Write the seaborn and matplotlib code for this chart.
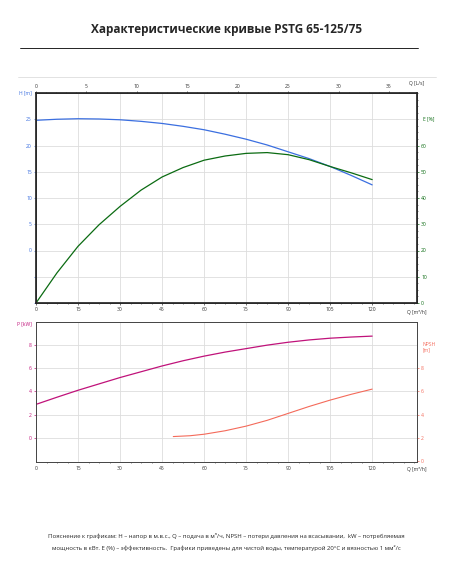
import matplotlib
matplotlib.use("Agg")
import matplotlib.pyplot as plt
import seaborn as sns
import numpy as np

q_hq = [0, 7.5, 15, 22.5, 30, 37.5, 45, 52.5, 60, 67.5, 75, 82.5, 90, 97.5, 105, 112.5, 120]
head = [24.8, 25.0, 25.1, 25.05, 24.9, 24.6, 24.2, 23.65, 23.0, 22.15, 21.2, 20.1, 18.8, 17.5, 16.0, 14.3, 12.5]
eff = [0, 11.5, 21.6, 29.8, 36.8, 43.0, 48.0, 51.6, 54.4, 56.0, 57.0, 57.3, 56.5, 54.6, 52.0, 49.6, 47.0]
q_p = [0, 7.5, 15, 22.5, 30, 37.5, 45, 52.5, 60, 67.5, 75, 82.5, 90, 97.5, 105, 112.5, 120]
power = [2.88, 3.5, 4.1, 4.65, 5.2, 5.7, 6.2, 6.65, 7.05, 7.4, 7.7, 8.0, 8.25, 8.45, 8.6, 8.7, 8.78]
q_npsh = [49, 55, 60, 67.5, 75, 82.5, 90, 97.5, 105, 112.5, 120]
npsh = [2.1, 2.17, 2.3, 2.6, 3.0, 3.5, 4.1, 4.7, 5.25, 5.75, 6.2]
q_ticks = [0, 15, 30, 45, 60, 75, 90, 105, 120]
ls_ticks = [0, 5, 10, 15, 20, 25, 30, 35]

sns.set_theme(style="white")
plt.rcParams['font.family'] = ['Open Sans', 'DejaVu Sans']
fs = 3.6
fig = plt.figure(figsize=(4.53, 5.67), dpi=100)
fig.text(0.5, 1 - 30/567, "Характеристические кривые PSTG 65-125/75", ha="center", va="center",
         fontsize=8.5, fontweight="bold")
fig.add_artist(plt.Line2D([20/453, 418/453], [1 - 48/567]*2, color="black", lw=0.6))
fig.add_artist(plt.Line2D([18/453, 436/453], [1 - 77/567]*2, color="#dddddd", lw=0.6))

BLUE = "#3b6fe0"; GREEN = "#0b6b12"; MAG = "#c0127a"; SAL = "#f46a5a"

def style(ax, lc, rc):
    ax.set_xlim(0, 136)
    ax.set_xticks(q_ticks)
    ax.set_xticklabels([str(t) for t in q_ticks])
    ax.grid(True, color="#dddddd", lw=0.6)
    for s in ax.spines.values():
        s.set_color("#444444"); s.set_linewidth(0.6)
    ax.tick_params(axis="both", labelsize=fs, length=1.5, width=0.5, pad=1.5)
    ax.tick_params(axis="y", colors=lc)
    ax.set_xticks(np.arange(0, 137, 3.75), minor=True)
    ax.tick_params(axis="x", which="minor", length=1, width=0.4, bottom=True)
    ax.tick_params(axis="x", colors="#333333")
    ax.text(1.0, -0.035, "Q [m³/h]", transform=ax.transAxes, fontsize=fs, ha="center", va="top", color="#333333")

# top
ax1 = fig.add_axes([36/453, 1 - 303/567, 381/453, 210/567])
sns.lineplot(x=q_hq, y=head, ax=ax1, color=BLUE, lw=0.9)
ax1.set_ylim(-10, 30)
ax1.set_yticks([-10, -5, 0, 5, 10, 15, 20, 25])
ax1.set_yticklabels(["", "", "0", "5", "10", "15", "20", "25"])
style(ax1, BLUE, GREEN)
ax1.text(-0.01, 1.0, "H [m]", transform=ax1.transAxes, fontsize=fs, color=BLUE, ha="right", va="center")
ax1e = ax1.twinx()
sns.lineplot(x=q_hq, y=eff, ax=ax1e, color=GREEN, lw=0.9)
ax1e.set_ylim(0, 80)
ax1e.set_yticks(range(0, 70, 10))
ax1e.tick_params(axis="y", labelsize=fs, colors=GREEN, length=1.5, width=0.5, pad=1.5)
ax1e.set_yticks(np.arange(0, 81, 2.5), minor=True)
ax1e.tick_params(axis="y", which="minor", length=1, width=0.4, right=True)
ax1e.text(1.015, 0.875, "E [%]", transform=ax1e.transAxes, fontsize=fs, color=GREEN, ha="left", va="center")
ax1e.grid(False)
for s in ax1e.spines.values():
    s.set_color("#444444"); s.set_linewidth(0.6)
ax1s = ax1.twiny()
ax1s.set_xlim(0, 136/3.6)
ax1s.set_xticks(ls_ticks)
ax1s.set_xticks(np.arange(0, 37.8, 1), minor=True)
ax1s.tick_params(axis="x", labelsize=fs, length=1.5, width=0.5, pad=1.5, colors="#333333")
ax1s.tick_params(axis="x", which="minor", length=1, width=0.4, top=True)
ax1s.text(1.0, 1.035, "Q [L/s]", transform=ax1s.transAxes, fontsize=fs, ha="center", va="bottom", color="#333333")
ax1s.grid(False)

# bottom
ax2 = fig.add_axes([36/453, 1 - 462/567, 381/453, 140/567])
sns.lineplot(x=q_p, y=power, ax=ax2, color=MAG, lw=0.9)
ax2.set_ylim(-2.1, 10)
ax2.set_yticks([0, 2, 4, 6, 8])
style(ax2, MAG, SAL)
ax2.text(-0.01, 0.985, "P [kW]", transform=ax2.transAxes, fontsize=fs, color=MAG, ha="right", va="center")
ax2n = ax2.twinx()
sns.lineplot(x=q_npsh, y=npsh, ax=ax2n, color=SAL, lw=0.8)
ax2n.set_ylim(-0.1, 12)
ax2n.set_yticks([0, 2, 4, 6, 8])
ax2n.tick_params(axis="y", labelsize=fs, colors=SAL, length=1.5, width=0.5, pad=1.5)
ax2n.text(1.015, 0.82, "NPSH\n[m]", transform=ax2n.transAxes, fontsize=fs, color=SAL, ha="left", va="center")
ax2n.grid(False)
for s in ax2n.spines.values():
    s.set_color("#444444"); s.set_linewidth(0.6)

fig.text(0.5, 1 - 536/567, "Пояснение к графикам: H – напор в м.в.с., Q – подача в м³/ч, NPSH – потери давления на всасывании,  kW – потребляемая",
         ha="center", va="center", fontsize=4.3)
fig.text(0.5, 1 - 548/567, "мощность в кВт. E (%) – эффективность.  Графики приведены для чистой воды, температурой 20°C и вязностью 1 мм²/с",
         ha="center", va="center", fontsize=4.3)
fig.savefig("out.png", dpi=100)
